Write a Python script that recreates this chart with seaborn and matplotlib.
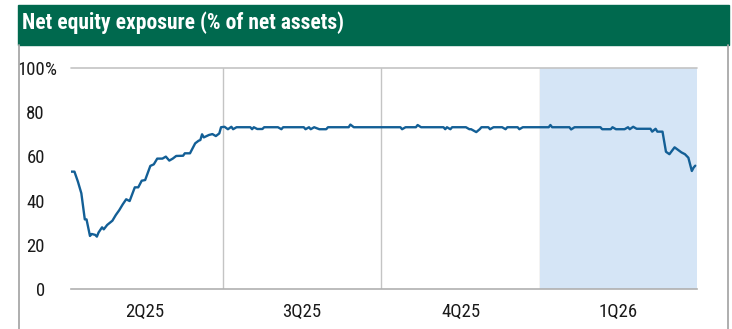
import pandas as pd
import matplotlib
matplotlib.use("Agg")
import matplotlib.pyplot as plt
from matplotlib import font_manager
from matplotlib.patches import Rectangle
from matplotlib.lines import Line2D
import seaborn as sns

# ---- data -------------------------------------------------------------
dates = [
    "2025-04-04", "2025-04-06", "2025-04-08", "2025-04-10", "2025-04-12",
    "2025-04-13", "2025-04-15", "2025-04-16", "2025-04-18", "2025-04-19",
    "2025-04-20", "2025-04-22", "2025-04-23", "2025-04-25", "2025-04-28",
    "2025-04-30", "2025-05-02", "2025-05-04", "2025-05-06", "2025-05-08",
    "2025-05-11", "2025-05-13", "2025-05-15", "2025-05-17", "2025-05-20",
    "2025-05-22", "2025-05-24", "2025-05-27", "2025-05-29", "2025-05-31",
    "2025-06-02", "2025-06-04", "2025-06-08", "2025-06-09", "2025-06-12",
    "2025-06-15", "2025-06-17", "2025-06-18", "2025-06-19", "2025-06-20",
    "2025-06-23", "2025-06-25", "2025-06-27", "2025-06-29", "2025-06-30",
    "2025-07-02", "2025-07-04", "2025-07-06", "2025-07-07", "2025-07-09",
    "2025-07-17", "2025-07-18", "2025-07-19", "2025-07-21", "2025-07-24",
    "2025-07-25", "2025-08-02", "2025-08-04", "2025-08-05", "2025-08-17",
    "2025-08-18", "2025-08-20", "2025-08-21", "2025-08-23", "2025-08-26",
    "2025-08-30", "2025-08-31", "2025-09-12", "2025-09-13", "2025-09-15",
    "2025-10-12", "2025-10-13", "2025-10-15", "2025-10-21", "2025-10-22",
    "2025-10-24", "2025-11-06", "2025-11-07", "2025-11-08", "2025-11-10",
    "2025-11-11", "2025-11-19", "2025-11-21", "2025-11-22", "2025-11-25",
    "2025-11-27", "2025-11-28", "2025-12-02", "2025-12-03", "2025-12-05",
    "2025-12-10", "2025-12-12", "2025-12-13", "2025-12-19", "2025-12-20",
    "2025-12-22", "2026-01-06", "2026-01-07", "2026-01-08", "2026-01-18",
    "2026-01-19", "2026-01-21", "2026-02-05", "2026-02-06", "2026-02-11",
    "2026-02-12", "2026-02-14", "2026-02-19", "2026-02-21", "2026-02-22",
    "2026-02-24", "2026-02-26", "2026-03-06", "2026-03-07", "2026-03-09",
    "2026-03-10", "2026-03-13", "2026-03-15", "2026-03-17", "2026-03-20",
    "2026-03-24", "2026-03-26", "2026-03-28", "2026-03-30", "2026-03-31",
    "2026-04-01",
]
exposure = [
    53.1, 53.1, 48.6, 43.3, 31.5,
    31.5, 24.0, 24.9, 24.5, 23.7,
    25.6, 27.9, 27.0, 29.0, 30.9,
    33.5, 35.7, 38.3, 40.6, 39.8,
    46.0, 46.0, 49.0, 49.3, 55.7,
    56.4, 59.0, 59.0, 59.9, 58.1,
    59.0, 60.2, 60.3, 61.4, 61.4,
    65.9, 67.1, 67.4, 70.0, 68.6,
    69.7, 70.1, 69.2, 70.4, 73.2,
    73.4, 72.3, 73.4, 72.3, 73.2,
    73.2, 72.3, 73.2, 72.4, 72.4,
    73.2, 73.2, 72.3, 73.2, 73.2,
    72.3, 73.2, 72.3, 73.2, 72.3,
    72.3, 73.2, 73.2, 74.4, 73.2,
    73.2, 72.3, 73.2, 73.2, 74.2,
    73.2, 73.2, 72.3, 73.2, 72.3,
    73.2, 73.2, 72.3, 72.3, 71.0,
    72.3, 73.2, 73.2, 72.3, 73.2,
    73.2, 72.3, 73.2, 73.2, 72.3,
    73.2, 73.2, 74.2, 73.2, 73.2,
    72.2, 73.2, 73.2, 72.3, 72.3,
    73.2, 72.3, 72.3, 73.2, 72.3,
    73.4, 72.5, 72.5, 71.2, 72.5,
    71.2, 71.2, 62.1, 61.0, 64.1,
    61.8, 61.0, 59.4, 53.4, 54.9,
    55.8,
]
quarter_edges = ["2025-04-01", "2025-07-01", "2025-10-01", "2026-01-01", "2026-04-01"]
quarter_labels = ["2Q25", "3Q25", "4Q25", "1Q26"]
highlight_start = "2026-01-01"
x_range = ["2025-04-04", "2026-04-02"]
y_ticks = [0, 20, 40, 60, 80, 100]
y_tick_labels = ["0", "20", "40", "60", "80", "100"]
title = "Net equity exposure (% of net assets)"

# ---- fonts: prefer a condensed sans ---------------------------------
sns.set_style("white")
entries = font_manager.fontManager.ttflist
condensed = ("condensed", "semi-condensed", "extra-condensed")
candidates = [
    ("Roboto Condensed", None),
    ("Liberation Sans Narrow", None),
    ("Noto Sans", "condensed"),
    ("Open Sans", "condensed"),
    ("DejaVu Sans", "condensed"),
]
family, stretch = "Liberation Sans", "normal"
for name, st in candidates:
    if st is None and any(f.name == name for f in entries):
        family, stretch = name, "normal"
        break
    if st and any(f.name == name and str(f.stretch) in condensed for f in entries):
        family, stretch = name, st
        break
plt.rcParams["font.family"] = [family, "DejaVu Sans"]
plt.rcParams["font.stretch"] = stretch

df = pd.DataFrame({"date": pd.to_datetime(dates), "exposure": exposure})
edges = pd.to_datetime(quarter_edges)
mids = [a + (b - a) / 2 for a, b in zip(edges[:-1], edges[1:])]
x0, x1 = pd.to_datetime(x_range)

# ---- figure frame ----------------------------------------------------
W, H = 732, 329
fig = plt.figure(figsize=(W / 100, H / 100), dpi=100)
fig.patches.append(Rectangle((18 / W, (H - 45) / H), (729 - 18) / W, 40 / H,
                             transform=fig.transFigure, color="#00694e", zorder=0))
for xp in (18.5, 727.5):
    fig.add_artist(Line2D([xp / W, xp / W], [0, (H - 45) / H],
                          transform=fig.transFigure, color="#a8a8a8", lw=1.3))
fig.text(22 / W, (H - 23) / H, title, color="white", fontsize=15.5,
         fontweight="bold", va="center", ha="left")

ax = fig.add_axes([71 / W, (H - 289) / H, (697 - 71) / W, (289 - 68) / H])

# quarter dividers, highlighted quarter and top gridline
for e in edges[1:-1]:
    ax.axvline(e, color="#c4c4c4", lw=1.0, zorder=1)
ax.axvspan(pd.Timestamp(highlight_start), x1, color="#d5e5f6", lw=0, zorder=1.5)
ax.axhline(100, color="#c4c4c4", lw=1.2, zorder=2, clip_on=False)

sns.lineplot(data=df, x="date", y="exposure", ax=ax, color="#135f96",
             linewidth=1.7, zorder=3)

ax.set_xlim(x0, x1)
ax.set_ylim(0, 100)
ax.set_xlabel("")
ax.set_ylabel("")

for s in ("top", "right"):
    ax.spines[s].set_visible(False)
ax.spines["left"].set_position(("outward", 5.8))
ax.spines["left"].set_visible(False)
ax.spines["bottom"].set_color("#b0b0b0")
ax.spines["bottom"].set_linewidth(1.2)
ax.spines["bottom"].set_zorder(4)

# y axis
ax.set_yticks(y_ticks, y_tick_labels)
ax.tick_params(axis="y", length=3.6, width=1.2, color="#b8b8b8", pad=9.4,
               labelsize=13.5, labelcolor="#1a1a1a")
yt = ax.yaxis.get_major_ticks()
yt[0].tick1line.set_visible(False)
yt[-1].tick1line.set_visible(False)
fig.text(45.5 / W, (H - 68) / H, "%", ha="left", va="center_baseline",
         fontsize=13.5, color="#1a1a1a")

# x axis: month ticks, quarter names centred between dividers
month_ticks = [x0] + list(pd.date_range("2025-05-01", "2026-04-01", freq="MS"))
ax.set_xticks(month_ticks)
ax.set_xticklabels([])
ax.set_xticks(mids, minor=True)
ax.set_xticklabels(quarter_labels, minor=True)
ax.tick_params(axis="x", which="major", length=5, width=1.2, color="#b0b0b0")
ax.tick_params(axis="x", which="minor", length=0, pad=10, labelsize=13.5,
               labelcolor="#1a1a1a")

fig.savefig("out.png", dpi=100)
